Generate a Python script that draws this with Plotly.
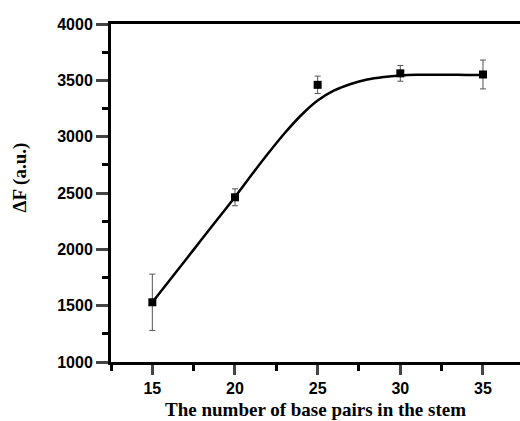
import plotly.graph_objects as go

# measured points
bp = [15, 20, 25, 30, 35]
dF = [1530, 2462, 3460, 3562, 3552]
dF_err = [250, 75, 77, 70, 128]

# fitted curve
fit_x = [15, 16, 17, 18, 19, 20, 21, 22, 23, 24, 25, 26, 27, 28, 29, 30, 31, 32, 33, 34, 35]
fit_y = [1530, 1717, 1904, 2091, 2278, 2465, 2660, 2850, 3030, 3190, 3320, 3410, 3468, 3508, 3530, 3543, 3549, 3550, 3549, 3548, 3547]

xticks = [15, 20, 25, 30, 35]
yticks = [1000, 1500, 2000, 2500, 3000, 3500, 4000]

fig = go.Figure()
fig.add_trace(go.Scatter(x=fit_x, y=fit_y, mode="lines", line=dict(color="black", width=2.5, shape="spline"),
                         hoverinfo="skip", showlegend=False))
fig.add_trace(go.Scatter(x=bp, y=dF, mode="markers",
                         marker=dict(symbol="square", size=8, color="black"),
                         error_y=dict(type="data", array=dF_err, color="#555555", thickness=1, width=3),
                         showlegend=False))

tickfont = dict(family="Liberation Sans", size=16, color="black")
fig.update_layout(
    width=520, height=421,
    margin=dict(l=111, r=0, t=24, b=59),
    paper_bgcolor="white", plot_bgcolor="white",
    xaxis=dict(range=[12.5, 37.24], tickvals=xticks, ticktext=[f"<b>{v}</b>" for v in xticks],
               ticks="outside", ticklen=10, tickwidth=2.5,
               showline=True, linewidth=3, linecolor="black", mirror=True, showgrid=False, zeroline=False,
               tickfont=tickfont,
               minor=dict(dtick=2.5, tick0=12.5, ticks="outside", ticklen=6, tickwidth=2.5, tickcolor="black")),
    yaxis=dict(range=[1000, 4000], tickvals=yticks, ticktext=[f"<b>{v}</b>" for v in yticks],
               ticks="outside", ticklen=12, tickwidth=2.5,
               showline=True, linewidth=3, linecolor="black", showgrid=False, zeroline=False,
               tickfont=tickfont,
               minor=dict(dtick=250, tick0=1000, ticks="outside", ticklen=6, tickwidth=2.5, tickcolor="black")),
    annotations=[
        dict(text="<b>The number of base pairs in the stem</b>", xref="paper", yref="paper",
             x=0.5, y=-0.141, xanchor="center", yanchor="middle", showarrow=False,
             font=dict(family="Liberation Serif", size=19, color="black")),
        dict(text="<b>ΔF (a.u.)</b>", xref="paper", yref="paper",
             x=-0.2225, y=0.546, xanchor="center", yanchor="middle", showarrow=False, textangle=-90,
             font=dict(family="Liberation Serif", size=19, color="black")),
    ],
)
fig.write_html("out.html", config={"displayModeBar": False},
               post_script="document.body.style.margin='0px';document.body.style.overflow='hidden';")
